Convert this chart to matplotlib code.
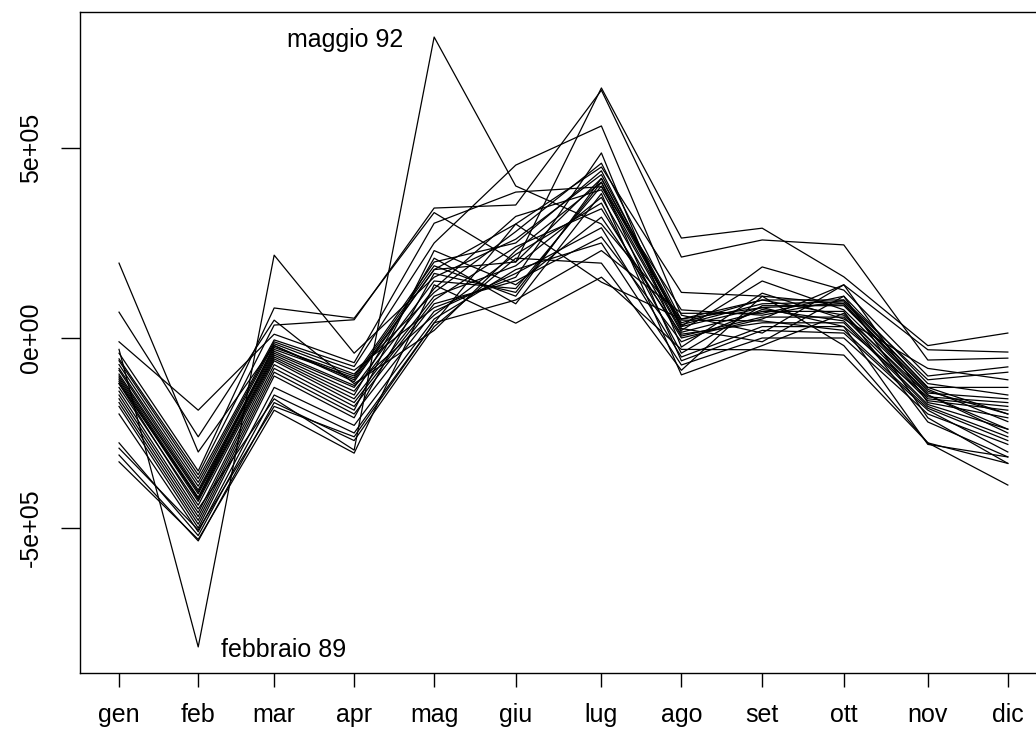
import matplotlib
matplotlib.use("Agg")
import matplotlib.pyplot as plt
import numpy as np

plt.rcParams['font.family'] = ['Liberation Sans', 'DejaVu Sans']

# mesi e posizione sull'asse x
mesi = ["gen", "feb", "mar", "apr", "mag", "giu", "lug", "ago", "set", "ott", "nov", "dic"]
x_mesi = [1.00, 1.98, 2.92, 3.91, 4.90, 5.91, 6.97, 7.96, 8.96, 9.97, 11.01, 12.00]

# scarti mensili dalla media annua (migliaia)
y1986 = [197, -300, -20, -110, 180, 300, 450, 120, 110, 90, -140, -200]
y1987 = [68, -260, 47, -120, 20, 230, 410, 30, 187, 126, -100, -76]
y1988 = [-10, -190, 10, -65, 302, 384, 398, 74, 60, 100, -110, -90]
y1989 = [-30, -813, 218, -40, 160, 260, 430, 40, 100, 60, -150, -250]
y1990 = [-40, -350, 79, 52, 330, 200, 658, 263, 289, 161, -20, 13]
y1991 = [-55, -360, 34, 48, 342, 350, 652, 213, 258, 245, -58, -53]
y1992 = [-120, -450, -160, -295, 792, 400, 300, 50, 100, 100, -130, -200]
y1993 = [-70, -380, -10, -85, 80, 160, 487, -24, 118, 50, -80, -110]
y1994 = [-80, -390, -15, -95, 120, 280, 460, 47, 45, 20, -185, -270]
y1995 = [-85, -400, -25, -100, 200, 250, 440, 25, -10, 110, -120, -150]
y1996 = [-95, -405, -30, -105, 190, 110, 420, 35, 90, 95, -130, -130]
y1997 = [-100, -410, -35, -125, 60, 220, 355, -40, 85, 85, -135, -220]
y1998 = [-105, -420, -40, -130, 150, 130, 400, 20, 150, 74, -145, -160]
y1999 = [-110, -425, -45, -140, 130, 320, 390, 15, 70, 70, -221, -313]
y2000 = [-115, -430, -50, -150, 210, 90, 380, -97, -20, 65, -160, -180]
y2001 = [-60, -370, -5, -75, 250, 455, 558, 60, 13, 140, -31, -37]
y2002 = [-130, -440, -55, -160, 110, 190, 370, 5, 55, 55, -165, -190]
y2003 = [-140, -460, -60, -170, 100, 240, 340, 0, 50, 140, -170, -210]
y2004 = [-150, -470, -70, -180, 90, 150, 266, -10, 75, 45, -175, -240]
y2005 = [-160, -480, -80, -190, 230, 140, 318, 10, 40, 40, -180, -260]
y2006 = [-170, -490, -90, -200, 70, 170, 290, -50, 30, 30, -155, -170]
y2007 = [-180, -500, -100, -210, 170, 120, 410, -60, 20, 13, -190, -300]
y2008 = [-200, -510, -130, -230, 50, 180, 250, -71, 0, 0, -200, -280]
y2009 = [-276, -520, -150, -250, 40, 100, 230, 65, 65, 110, -210, -330]
y2010 = [-308, -534, -170, -270, 30, 210, 197, -85, 110, -20, -276, -387]
y2011 = [-326, -530, -190, -303, 140, 39, 160, -30, -31, -45, -276, -330]
y2012 = [-290, -505, -180, -260, 40, 300, 147, 50, 80, 30, -280, -313]
y2013 = [-120, -420, -20, -115, 180, 200, 420, 30, 80, 90, -150, -240]

serie = [y1986, y1987, y1988, y1989, y1990, y1991, y1992, y1993, y1994, y1995,
         y1996, y1997, y1998, y1999, y2000, y2001, y2002, y2003, y2004, y2005,
         y2006, y2007, y2008, y2009, y2010, y2011, y2012, y2013]

fig = plt.figure(figsize=(10.36, 7.29), dpi=100)
ax = fig.add_axes([80 / 1036, 56 / 729, 970 / 1036, 661 / 729])

for s in serie:
    ax.plot(x_mesi, np.array(s) * 1000, color="black", linewidth=0.9)

ax.text(3.80, 766000, "maggio 92", fontsize=18, ha="center", va="baseline")
ax.text(3.04, -839000, "febbraio 89", fontsize=18, ha="center", va="baseline")

ax.set_xlim(0.517, 0.517 + 970 / 80.8)
ax.set_ylim(-881600, 857900)

ax.set_xticks(x_mesi)
ax.set_xticklabels(mesi)
ax.set_yticks([-500000, 0, 500000])
ax.set_yticklabels(["-5e+05", "0e+00", "5e+05"], rotation=90, va="center")

ax.tick_params(axis="x", length=10, width=1, pad=11.5, labelsize=18)
ax.tick_params(axis="y", length=13.7, width=1, pad=13, labelsize=18)

for sp in ax.spines.values():
    sp.set_linewidth(1)

fig.savefig("out.png", dpi=100)
